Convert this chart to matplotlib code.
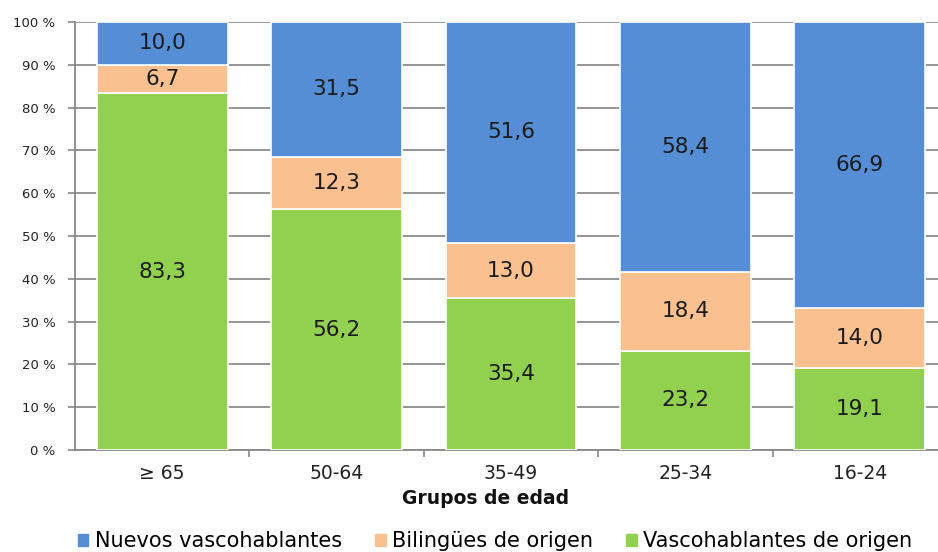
import numpy as np
import matplotlib.pyplot as plt
from matplotlib.patches import Patch

# Datos (porcentajes por grupo de edad)
grupos = ['≥ 65', '50-64', '35-49', '25-34', '16-24']
vasco_origen = [83.3, 56.2, 35.4, 23.2, 19.1]
bilingues = [6.7, 12.3, 13.0, 18.4, 14.0]
nuevos = [10.0, 31.5, 51.6, 58.4, 66.9]

series_labels = ['Nuevos vascohablantes', 'Bilingües de origen', 'Vascohablantes de origen']
c_azul = '#558ed5'
c_naranja = '#fac090'
c_verde = '#92d050'

fig = plt.figure(figsize=(9.38, 5.52), dpi=100)
ax = fig.add_axes([75/938, 102/552, 872/938, 428/552])

x = np.arange(len(grupos))
w = 0.75
v = np.array(vasco_origen)
b = np.array(bilingues)
n = np.array(nuevos)

ax.bar(x, v, w, color=c_verde, edgecolor='white', linewidth=1.2, zorder=3)
ax.bar(x, b, w, bottom=v, color=c_naranja, edgecolor='white', linewidth=1.2, zorder=3)
ax.bar(x, n, w, bottom=v + b, color=c_azul, edgecolor='white', linewidth=1.2, zorder=3)

def fmt(val):
    return f'{val:.1f}'.replace('.', ',')

for i in range(len(grupos)):
    ax.text(x[i], v[i] / 2, fmt(v[i]), ha='center', va='center', fontsize=15.5, color='#1a1a1a', zorder=4)
    ax.text(x[i], v[i] + b[i] / 2, fmt(b[i]), ha='center', va='center', fontsize=15.5, color='#1a1a1a', zorder=4)
    ax.text(x[i], v[i] + b[i] + n[i] / 2, fmt(n[i]), ha='center', va='center', fontsize=15.5, color='#1a1a1a', zorder=4)

ax.set_xlim(-0.5, len(grupos) - 0.5)
ax.set_ylim(0, 100)
ax.set_yticks(np.arange(0, 101, 10))
ax.set_yticklabels([f'{t} %' for t in range(0, 101, 10)], fontsize=9.5, color='#222222')
ax.set_xticks(x)
ax.set_xticklabels(grupos, fontsize=13.5, color='#222222')
ax.set_xticks(np.arange(0.5, len(grupos) - 1, 1), minor=True)
ax.tick_params(axis='x', which='major', length=0, pad=10)
ax.tick_params(axis='x', which='minor', length=5, color='#888888', width=1.2)
ax.tick_params(axis='y', length=5, color='#888888', width=1.2, pad=9)

ax.grid(axis='y', color='#8c8c8c', linewidth=1.3, zorder=0)
for s in ['top', 'right']:
    ax.spines[s].set_visible(False)
ax.spines['left'].set_color('#888888')
ax.spines['left'].set_linewidth(1.3)
ax.spines['bottom'].set_color('#888888')
ax.spines['bottom'].set_linewidth(1.3)

fig.text(486/938, 1 - 498/552, 'Grupos de edad', ha='center', va='center',
         fontsize=13.5, fontweight='bold', color='#111111')

handles = [Patch(color=c_azul), Patch(color=c_naranja), Patch(color=c_verde)]
fig.legend(handles, series_labels, loc='center', bbox_to_anchor=(495/938, 1 - 541/552),
           ncol=3, frameon=False, fontsize=15, handlelength=0.5, handleheight=0.5,
           handletextpad=0.3, columnspacing=1.6)

fig.savefig('out.png', dpi=100, facecolor='white')
